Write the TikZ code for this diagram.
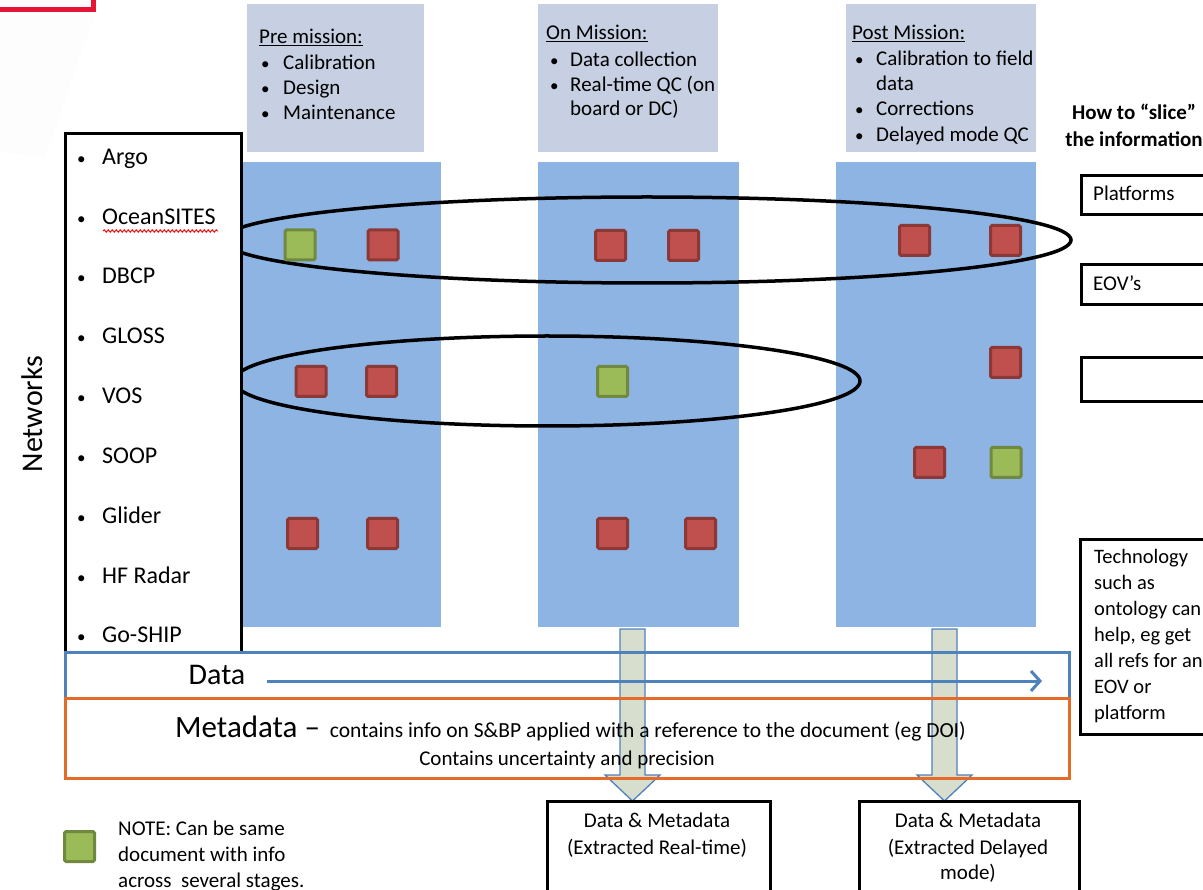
\documentclass[tikz,border=0pt]{standalone}
\usepackage{fontspec}
\setmainfont{Carlito}
\usetikzlibrary{arrows.meta,decorations.pathmorphing}

\definecolor{hdrfill}{RGB}{198,208,226}
\definecolor{colfill}{RGB}{141,180,226}
\definecolor{redfill}{RGB}{192,80,77}
\definecolor{redline}{RGB}{140,56,54}
\definecolor{grnfill}{RGB}{155,187,89}
\definecolor{grnline}{RGB}{113,137,63}
\definecolor{datablue}{RGB}{79,129,189}
\definecolor{metaorange}{RGB}{228,108,40}
\definecolor{arrowfill}{RGB}{216,222,206}
\definecolor{markred}{RGB}{228,22,52}

\newcommand{\smallbullet}{{\fontsize{17}{20}\selectfont\textbullet}}

\begin{document}
\begin{tikzpicture}[x=1pt,y=-1pt,
  txt/.style={inner sep=0pt, anchor=west, text height=0.7em, text depth=0.2em, yshift=-5pt},
  ctxt/.style={inner sep=0pt, anchor=center, text height=0.7em, text depth=0.2em, yshift=-5pt},
  hdr/.style={txt, font=\fontsize{21}{25}\selectfont},
  lst/.style={txt, font=\fontsize{24}{29}\selectfont},
  sml/.style={font=\fontsize{21}{25}\selectfont},
  hdrbox/.style={fill=hdrfill, draw=none},
  colbox/.style={fill=colfill, draw=none},
  sq/.style={draw, line width=3pt, rounded corners=1.5pt, minimum size=30pt, inner sep=0pt},
  redsq/.style={sq, fill=redfill, draw=redline},
  grnsq/.style={sq, fill=grnfill, draw=grnline},
  slice/.style={draw=black, line width=3.5pt},
  blackbox/.style={draw=black, line width=3pt, fill=white},
  blockarrow/.style={fill=arrowfill, draw=datablue, line width=1.3pt, line join=miter}
]
\useasboundingbox (0,0) rectangle (1203,890);
\clip (0,0) rectangle (1203,890);

% corner mark
\fill[black!0.8] (0,14) -- (95,14) -- (45,158) -- (0,152) -- cycle;
\draw[markred, line width=5pt] (0,10) -- (93,10) -- (93,-5);

% stage headers
\node[hdrbox, minimum width=177pt, minimum height=148pt, anchor=north west] (h1) at (247,4) {};
\node[hdrbox, minimum width=180pt, minimum height=148pt, anchor=north west] (h2) at (538,4) {};
\node[hdrbox, minimum width=190pt, minimum height=148pt, anchor=north west] (h3) at (846,4) {};

\node[hdr] (h1t) at (259,36) {\underline{Pre mission:}};
\node[hdr] at (261,62) {\smallbullet};  \node[hdr] at (283,62) {Calibration};
\node[hdr] at (261,87) {\smallbullet};  \node[hdr] at (283,87) {Design};
\node[hdr] at (261,112) {\smallbullet}; \node[hdr] at (283,112) {Maintenance};

\node[hdr] (h2t) at (546,32) {\underline{On Mission:}};
\node[hdr] at (550,59) {\smallbullet}; \node[hdr] at (570,59) {Data collection};
\node[hdr] at (550,84) {\smallbullet}; \node[hdr] at (570,84) {Real-time QC (on};
\node[hdr] at (570,108) {board or DC)};

\node[hdr] (h3t) at (852,32) {\underline{Post Mission:}};
\node[hdr] at (855,58) {\smallbullet};  \node[hdr] at (876,58) {Calibration to field};
\node[hdr] at (876,83) {data};
\node[hdr] at (855,108) {\smallbullet}; \node[hdr] at (876,108) {Corrections};
\node[hdr] at (855,134) {\smallbullet}; \node[hdr] at (876,134) {Delayed mode QC};

% stage columns
\node[colbox, minimum width=201pt, minimum height=465pt, anchor=north west] (c1) at (240,162) {};
\node[colbox, minimum width=201pt, minimum height=465pt, anchor=north west] (c2) at (538,162) {};
\node[colbox, minimum width=200pt, minimum height=465pt, anchor=north west] (c3) at (836,162) {};

% slices
\draw[slice] (647,240) ellipse [x radius=424, y radius=43];
\draw[slice] (547,381) ellipse [x radius=313, y radius=45];

% networks list
\node[blackbox, minimum width=176pt, minimum height=519pt, anchor=north west] (net) at (64,132) {};
\foreach \y/\t [count=\i] in {157/Argo, 217/OceanSITES, 276/DBCP, 336/GLOSS, 396/VOS, 456/SOOP, 516/Glider, 576/HF Radar, 635/Go-SHIP}{
  \node[lst] (b\i) at (77,\y) {\smallbullet};
  \node[lst] (n\i) at (102,\y) {\t};
}
\draw[red, line width=0.9pt, decorate, decoration={snake, amplitude=1.2pt, segment length=4pt}] (103,231) -- (218,231);
\node[rotate=90, font=\fontsize{30}{34}\selectfont, inner sep=0pt] (netlabel) at (32,414) {Networks};

% documents
\node[grnsq] (s1) at (300,245) {};
\node[redsq] (s2) at (383,245) {};
\node[redsq] (s3) at (610.5,245.5) {};
\node[redsq] (s4) at (683.5,245.5) {};
\node[redsq] (s5) at (914.5,240.5) {};
\node[redsq] (s6) at (1005.5,240.5) {};
\node[redsq] (s7) at (1005.5,362.5) {};
\node[redsq] (s8) at (311,381.5) {};
\node[redsq] (s9) at (381.5,381.5) {};
\node[grnsq] (s10) at (612.5,381.5) {};
\node[redsq] (s11) at (929.5,462.5) {};
\node[grnsq] (s12) at (1006,462.5) {};
\node[redsq] (s13) at (302.5,533.5) {};
\node[redsq] (s14) at (382.5,533.5) {};
\node[redsq] (s15) at (612.5,533.5) {};
\node[redsq] (s16) at (700.5,533.5) {};

% data and metadata bands
\fill[white] (64,651) rectangle (1068,777);

% extraction arrows
\coordinate (e1) at (632.5,801);
\coordinate (e2) at (944.5,801);
\draw[blockarrow] (620,629) -- (645,629) -- (645,775) -- (660,775) -- (e1) -- (605,775) -- (620,775) -- cycle;
\draw[blockarrow] (932,629) -- (957,629) -- (957,775) -- (972,775) -- (e2) -- (917,775) -- (932,775) -- cycle;

\node[draw=datablue, line width=2.5pt, minimum width=1004pt, minimum height=46pt, anchor=north west] (data) at (64,651) {};
\node[draw=metaorange, line width=2.5pt, minimum width=1004pt, minimum height=80pt, anchor=north west] (meta) at (64,697) {};
\node[ctxt, font=\fontsize{30}{34}\selectfont] (datat) at (217,677) {Data};
\coordinate (dstart) at (267,681);
\coordinate (dend) at (1042,681);
\draw[datablue, line width=3pt, -{Straight Barb[length=9pt, width=20pt, line width=3pt]}] (dstart) -- (dend);
\node[inner sep=0pt, anchor=base west] (metat) at (175,737) {\fontsize{31}{35}\selectfont Metadata --\hspace{10pt}\fontsize{21.5}{25}\selectfont contains info on S\&BP applied with a reference to the document (eg DOI)};
\node[ctxt, font=\fontsize{21}{25}\selectfont] (metat2) at (567,758) {Contains uncertainty and precision};

% extracted products
\node[blackbox, minimum width=223pt, minimum height=100pt, anchor=north west] (x1) at (546,800) {};
\node[ctxt, sml] at (657,820) {Data \& Metadata};
\node[ctxt, sml] at (657,847) {(Extracted Real-time)};
\node[blackbox, minimum width=220pt, minimum height=100pt, anchor=north west] (x2) at (858,800) {};
\node[ctxt, sml] at (968,820) {Data \& Metadata};
\node[ctxt, sml] at (968,847) {(Extracted Delayed};
\node[ctxt, sml] at (968,872) {mode)};

% slicing options
\node[ctxt, font=\bfseries\fontsize{21}{25}\selectfont] (how1) at (1134,112) {How to “slice”};
\node[ctxt, font=\bfseries\fontsize{21}{25}\selectfont] (how2) at (1134,139) {the information};
\node[blackbox, minimum width=140pt, minimum height=39pt, anchor=north west] (p1) at (1080,174) {};
\node[txt, sml] at (1093,193) {Platforms};
\node[blackbox, minimum width=140pt, minimum height=40pt, anchor=north west] (p2) at (1080,263) {};
\node[txt, sml] at (1093,283) {EOV’s};
\node[blackbox, minimum width=140pt, minimum height=44pt, anchor=north west] (p3) at (1080,356) {};
\node[blackbox, minimum width=140pt, minimum height=195pt, anchor=north west] (tech) at (1079,538) {};
\node[anchor=north west, align=left, inner sep=0pt, font=\fontsize{20.5}{26}\selectfont] (techt) at (1094,549) {Technology\\such as\\ontology can\\help, eg get\\all refs for an\\EOV or\\platform};

% legend
\node[grnsq] (leg) at (79.5,846.5) {};
\node[anchor=north west, align=left, inner sep=0pt, font=\fontsize{21}{26}\selectfont] (legt) at (118,821) {NOTE: Can be same\\document with info\\across\ \ several stages.};
\end{tikzpicture}
\end{document}
